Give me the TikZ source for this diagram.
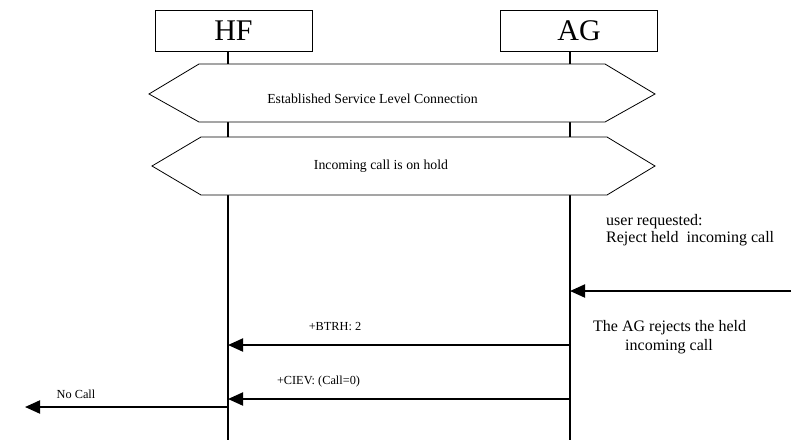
\documentclass[tikz,border=0pt]{standalone}
\usepackage{fontspec}
\setmainfont{Liberation Serif}
\usetikzlibrary{arrows.meta}
\begin{document}
\begin{tikzpicture}[x=1pt,y=-1pt,
  ent/.style={draw,line width=0.8pt,minimum width=157pt,minimum height=41pt,inner sep=0pt,font=\fontsize{30}{30}\selectfont},
  life/.style={line width=1.3pt},
  msg/.style={line width=2pt,-{Triangle[length=15pt,width=13pt]}},
  hex/.style={draw,line width=0.8pt},
  hlbl/.style={font=\fontsize{13.8}{15}\selectfont,inner sep=0pt},
  lbl/.style={font=\fontsize{12.3}{14}\selectfont,inner sep=0pt},
  unote/.style={font=\fontsize{16}{17}\selectfont,inner sep=0pt,anchor=west}]
\useasboundingbox (0,0) rectangle (803,442);
\node[ent] (hf) at (233.5,30.5) {HF};
\node[ent] (ag) at (579,30.5) {AG};
\coordinate (hfe) at (228,440);
\coordinate (age) at (570,440);
\draw[life] (228,51) -- (hfe);
\draw[life] (570,51) -- (age);
% hexagons
\filldraw[hex,fill=white] (149,94) -- (199,64) -- (605,64) -- (655,94) -- (605,122) -- (199,122) -- cycle;
\node[hlbl] (slc) at (372.5,99) {Established Service Level Connection};
\filldraw[hex,fill=white] (152,166) -- (201,137) -- (607,137) -- (655,166) -- (607,195) -- (201,195) -- cycle;
\node[hlbl] (hold) at (381,166) {Incoming call is on hold};
% notes
\node[unote] (ur1) at (606,222) {user requested:};
\node[unote] (ur2) at (606,239) {Reject held\ \ incoming call};
\coordinate (ext) at (791,291);
\coordinate (agin) at (570,291);
\draw[msg] (ext) -- (agin);
\node[unote] (rej1) at (593,328) {The AG rejects the held};
\node[unote] (rej2) at (625,347) {incoming call};
% messages
\coordinate (a1) at (570,345);
\coordinate (h1) at (228,345);
\draw[msg] (a1) -- (h1);
\node[lbl] (btrh) at (335,327) {+BTRH: 2};
\coordinate (a2) at (570,399);
\coordinate (h2) at (228,399);
\draw[msg] (a2) -- (h2);
\node[lbl] (ciev) at (318.5,382) {+CIEV: (Call=0)};
\coordinate (h3) at (228,407);
\coordinate (nc) at (25,407);
\draw[msg] (h3) -- (nc);
\node[lbl] (nocall) at (76,394) {No Call};
\end{tikzpicture}
\end{document}
